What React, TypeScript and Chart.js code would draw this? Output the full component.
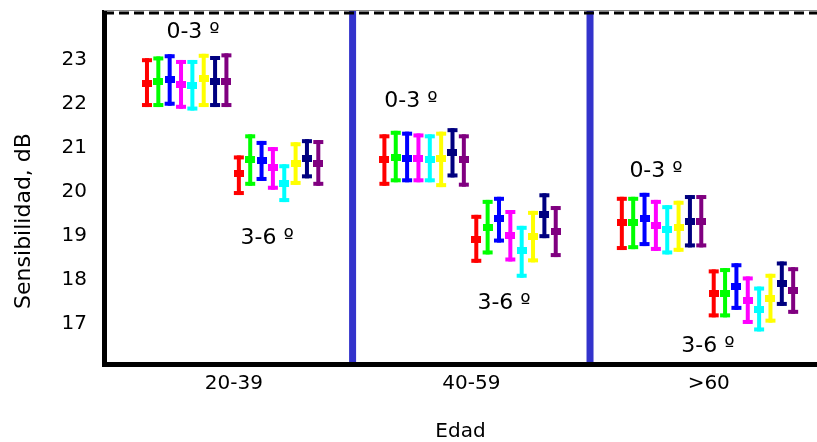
import React, { useEffect, useRef } from 'react';
import { Chart, registerables } from 'chart.js';

Chart.register(...registerables);

const categories = ['20-39', '40-59', '>60'];
const clusterLabels = ['0-3 º', '3-6 º'];
const yTicks = [17, 18, 19, 20, 21, 22, 23];
const yTitle = 'Sensibilidad, dB';
const xTitle = 'Edad';
const seriesColors = ['#ff0000', '#00ff00', '#0000ff', '#ff00ff', '#00ffff', '#ffff00', '#000080', '#800080'];

// order: [20-39 0-3, 20-39 3-6, 40-59 0-3, 40-59 3-6, >60 0-3, >60 3-6]
const s1Mean = [22.47, 20.41, 20.73, 18.91, 19.30, 17.70];
const s1Low = [21.93, 19.93, 20.14, 18.39, 18.68, 17.15];
const s1High = [23.04, 20.83, 21.31, 19.48, 19.89, 18.24];

const s2Mean = [22.52, 20.74, 20.79, 19.20, 19.30, 17.70];
const s2Low = [21.93, 20.14, 20.22, 18.58, 18.70, 17.15];
const s2High = [23.08, 21.31, 21.39, 19.82, 19.89, 18.27];

const s3Mean = [22.56, 20.71, 20.77, 19.39, 19.40, 17.85];
const s3Low = [21.96, 20.25, 20.22, 18.85, 18.77, 17.32];
const s3High = [23.13, 21.16, 21.37, 19.89, 19.98, 18.38];

const s4Mean = [22.44, 20.55, 20.77, 19.00, 19.23, 17.53];
const s4Low = [21.89, 20.05, 20.22, 18.42, 18.66, 17.00];
const s4High = [23.00, 21.02, 21.33, 19.59, 19.82, 18.08];

const s5Mean = [22.43, 20.20, 20.74, 18.66, 19.14, 17.33];
const s5Low = [21.85, 19.77, 20.22, 18.05, 18.58, 16.83];
const s5High = [23.00, 20.63, 21.31, 19.23, 19.70, 17.85];

const s6Mean = [22.57, 20.64, 20.75, 18.98, 19.20, 17.58];
const s6Low = [21.93, 20.16, 20.11, 18.40, 18.64, 17.03];
const s6High = [23.14, 21.13, 21.37, 19.57, 19.80, 18.14];

const s7Mean = [22.51, 20.75, 20.89, 19.48, 19.34, 17.91];
const s7Low = [21.93, 20.31, 20.33, 18.95, 18.74, 17.41];
const s7High = [23.09, 21.20, 21.45, 19.97, 19.93, 18.42];

const s8Mean = [22.52, 20.65, 20.73, 19.10, 19.34, 17.76];
const s8Low = [21.93, 20.14, 20.12, 18.52, 18.74, 17.23];
const s8High = [23.15, 21.18, 21.31, 19.68, 19.93, 18.29];

const seriesMeans = [s1Mean, s2Mean, s3Mean, s4Mean, s5Mean, s6Mean, s7Mean, s8Mean];
const seriesLows = [s1Low, s2Low, s3Low, s4Low, s5Low, s6Low, s7Low, s8Low];
const seriesHighs = [s1High, s2High, s3High, s4High, s5High, s6High, s7High, s8High];

// cluster label anchors (data coordinates), order as above
const labelX = [0.828, 1.14, 1.746, 2.138, 2.778, 2.997];
const labelY = [23.64, 18.95, 22.07, 17.48, 20.48, 16.5];

const clusterOffset = [-0.366, 0.021];
const barSpacing = 0.0478;
const separators = [1.5, 2.5];

const FONT = '"DejaVu Sans", Verdana, sans-serif';

const customPlugin = {
  id: 'customDecor',
  beforeDatasetsDraw(chart: any) {
    const { ctx, chartArea: a, scales } = chart;
    const x = scales.x;
    const y = scales.y;
    ctx.save();
    ctx.fillStyle = '#3333cc';
    separators.forEach((v) => {
      const px = x.getPixelForValue(v);
      ctx.fillRect(px - 3.5, a.top - 2, 7, a.bottom - a.top + 2);
    });
    chart.data.datasets.forEach((ds: any, i: number) => {
      ds.data.forEach((pt: any, k: number) => {
        const px = x.getPixelForValue(pt.x);
        const yh = y.getPixelForValue(seriesHighs[i][k]);
        const yl = y.getPixelForValue(seriesLows[i][k]);
        ctx.fillStyle = seriesColors[i];
        ctx.fillRect(px - 2, yh, 4, yl - yh);
        ctx.fillRect(px - 5, yh, 10, 4);
        ctx.fillRect(px - 5, yl - 4, 10, 4);
      });
    });
    ctx.restore();
  },
  afterDraw(chart: any) {
    const { ctx, chartArea: a, scales } = chart;
    const x = scales.x;
    const y = scales.y;
    ctx.save();
    // borders
    ctx.fillStyle = '#000';
    ctx.fillRect(a.left - 2, a.top - 2, 5, a.bottom - a.top + 5);
    ctx.fillRect(a.left - 2, a.bottom - 2, a.right - a.left + 4, 5);
    ctx.fillStyle = '#888';
    ctx.fillRect(a.left, a.top - 2, a.right - a.left, 1);
    ctx.strokeStyle = '#000';
    ctx.lineWidth = 3;
    ctx.setLineDash([10, 5]);
    ctx.beginPath();
    ctx.moveTo(a.left, a.top + 1);
    ctx.lineTo(a.right, a.top + 1);
    ctx.stroke();
    ctx.setLineDash([]);
    // cluster labels
    ctx.fillStyle = '#000';
    ctx.font = '22px ' + FONT;
    ctx.textAlign = 'center';
    ctx.textBaseline = 'middle';
    labelX.forEach((lx, k) => {
      ctx.fillText(clusterLabels[k % 2], x.getPixelForValue(lx), y.getPixelForValue(labelY[k]));
    });
    // y axis title, centred on the full canvas height
    ctx.font = '22px ' + FONT;
    ctx.translate(24, chart.height / 2);
    ctx.rotate(-Math.PI / 2);
    ctx.fillText(yTitle, 0, 0);
    ctx.restore();
  },
};

function makeMarker(color: string) {
  const c = document.createElement('canvas');
  c.width = 10;
  c.height = 7;
  const g = c.getContext('2d')!;
  g.fillStyle = color;
  g.fillRect(0, 0, 10, 7);
  return c;
}

function zeroPadding(s: any) {
  s.paddingTop = 0;
  s.paddingBottom = 0;
  s.paddingLeft = 0;
  s.paddingRight = 0;
}

export default function App() {
  const ref = useRef<HTMLCanvasElement | null>(null);
  useEffect(() => {
    if (!ref.current) return;
    const datasets = seriesMeans.map((means, i) => ({
      label: 'S' + (i + 1),
      data: means.map((m, k) => ({
        x: Math.floor(k / 2) + 1 + clusterOffset[k % 2] + i * barSpacing,
        y: m,
      })),
      pointStyle: makeMarker(seriesColors[i]),
      backgroundColor: seriesColors[i],
      borderColor: seriesColors[i],
      showLine: false,
    }));
    const chart = new Chart(ref.current, {
      type: 'scatter',
      data: { datasets },
      options: {
        animation: false,
        responsive: false,
        layout: { autoPadding: false, padding: { top: 12, left: 0, right: 0, bottom: 0 } },
        plugins: { legend: { display: false }, tooltip: { enabled: false } },
        scales: {
          x: {
            type: 'linear',
            min: 0.453,
            max: 3.456,
            grid: { display: false, drawTicks: false },
            border: { display: false },
            afterBuildTicks: (s: any) => {
              s.ticks = categories.map((_, i) => ({ value: i + 1 }));
            },
            afterFit: (s: any) => {
              s.height = 78;
              zeroPadding(s);
            },
            ticks: {
              color: '#000',
              font: { family: FONT, size: 20 },
              padding: 8,
              maxRotation: 0,
              autoSkip: false,
              callback: (v: any) => categories[Math.round(v) - 1] ?? '',
            },
            title: {
              display: true,
              text: xTitle,
              color: '#000',
              font: { family: FONT, size: 20 },
              padding: { top: 0, bottom: -2 },
            },
          },
          y: {
            type: 'linear',
            min: 16.09,
            max: 24.09,
            grid: { display: false, drawTicks: false },
            border: { display: false },
            afterBuildTicks: (s: any) => {
              s.ticks = yTicks.map((v) => ({ value: v }));
            },
            afterFit: (s: any) => {
              s.width = 104;
              zeroPadding(s);
            },
            ticks: {
              color: '#000',
              font: { family: FONT, size: 20 },
              padding: 17,
            },
            title: { display: false },
          },
        },
      },
      plugins: [customPlugin],
    } as any);
    return () => chart.destroy();
  }, []);
  return (
    <div style={{ position: 'absolute', left: 0, top: 0, width: 817, height: 442 }}>
      <canvas ref={ref} width={817} height={442} />
    </div>
  );
}
